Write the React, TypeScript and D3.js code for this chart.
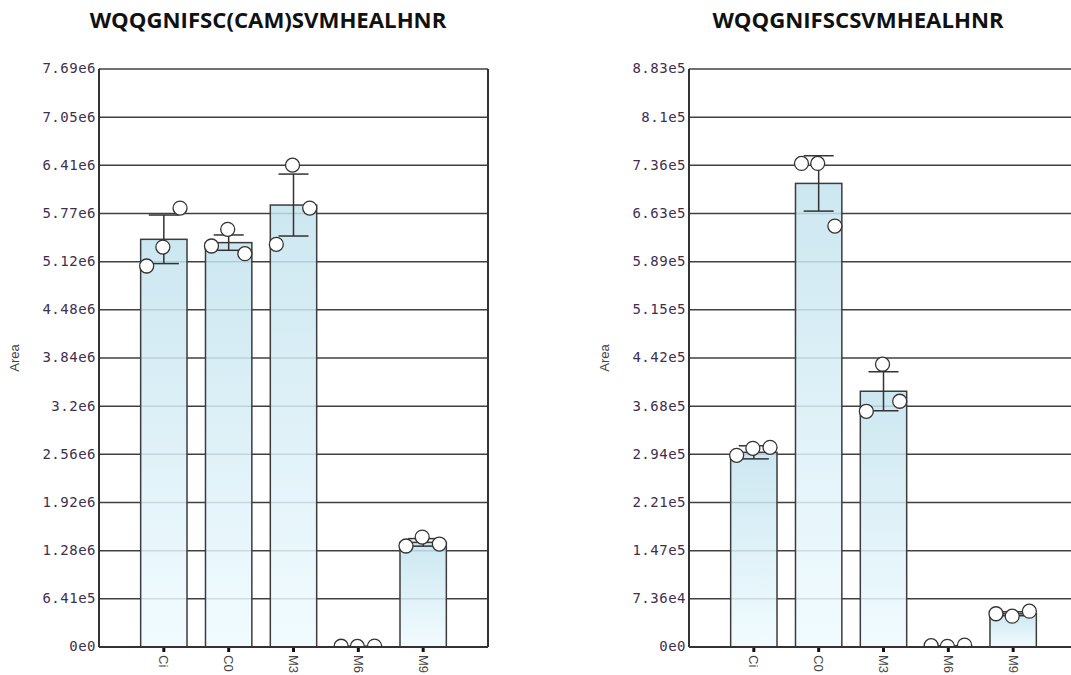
import React from 'react';
import * as d3 from 'd3';

const categories = ['Ci', 'C0', 'M3', 'M6', 'M9'];

const leftTitle = 'WQQGNIFSC(CAM)SVMHEALHNR';
const leftMax = 7.69e6;
const leftTickLabels = ['0e0', '6.41e5', '1.28e6', '1.92e6', '2.56e6', '3.2e6', '3.84e6', '4.48e6', '5.12e6', '5.77e6', '6.41e6', '7.05e6', '7.69e6'];
const leftMeans = [5.424e6, 5.38e6, 5.88e6, 1.2e4, 1.392e6];
const leftErrors = [3.23e5, 1.02e5, 4.12e5, 0, 5.0e4];
const leftPoints = [
  [5.069e6, 5.321e6, 5.84e6],
  [5.335e6, 5.557e6, 5.233e6],
  [5.357e6, 6.411e6, 5.84e6],
  [1.0e4, 0.8e4, 1.2e4],
  [1.344e6, 1.463e6, 1.37e6],
];

const rightTitle = 'WQQGNIFSCSVMHEALHNR';
const rightMax = 8.83e5;
const rightTickLabels = ['0e0', '7.36e4', '1.47e5', '2.21e5', '2.94e5', '3.68e5', '4.42e5', '5.15e5', '5.89e5', '6.63e5', '7.36e5', '8.1e5', '8.83e5'];
const rightMeans = [2.974e5, 7.082e5, 3.907e5, 2e3, 5.08e4];
const rightErrors = [1.0e4, 4.23e4, 2.98e4, 0, 3.0e3];
const rightPoints = [
  [2.928e5, 3.035e5, 3.05e5],
  [7.388e5, 7.388e5, 6.43e5],
  [3.601e5, 4.32e5, 3.754e5],
  [2e3, 1e3, 3e3],
  [5.08e4, 4.71e4, 5.47e4],
];

const jitter = [-0.265, -0.015, 0.25];

type PanelProps = {
  id: string;
  x0: number;
  title: string;
  max: number;
  tickLabels: string[];
  means: number[];
  errors: number[];
  points: number[][];
};

const W = 389;
const TOP = 69;
const BOTTOM = 647;

function Panel({ id, x0, title, max, tickLabels, means, errors, points }: PanelProps) {
  const x = d3.scalePoint<string>().domain(categories).range([x0, x0 + W]).padding(1);
  const y = d3.scaleLinear().domain([0, max]).range([BOTTOM, TOP]);
  const step = x.step();
  const bw = step * 0.715;
  const ticks = tickLabels.map((t, i) => ({ label: t, v: (max * i) / (tickLabels.length - 1) }));
  const grid = '#404040';
  return (
    <g>
      <defs>
        <linearGradient id={`grad-${id}`} x1="0" y1="0" x2="0" y2="1">
          <stop offset="0%" stopColor="#c4e3ee" />
          <stop offset="100%" stopColor="#effbff" />
        </linearGradient>
        <clipPath id={`clip-${id}`}>
          <rect x={x0} y={TOP} width={W} height={BOTTOM - TOP} />
        </clipPath>
      </defs>
      <text x={x0 + 169} y={28} textAnchor="middle" fontFamily="'Open Sans', sans-serif" fontWeight={700} fontSize={22.2} fill="#111">
        {title}
      </text>
      <text
        transform={`translate(${x0 - 80},${(TOP + BOTTOM) / 2}) rotate(-90)`}
        textAnchor="middle"
        fontFamily="'Liberation Sans', sans-serif"
        fontSize={13}
        fill="#444"
      >
        Area
      </text>
      {ticks.map((t, i) => (
        <g key={i}>
          <line x1={x0} x2={x0 + W} y1={y(t.v)} y2={y(t.v)} stroke={grid} strokeWidth={1.5} />
          <text
            x={x0 - 3}
            y={y(t.v)}
            dy="0.32em"
            textAnchor="end"
            fontFamily="'DejaVu Sans Mono', monospace"
            fontSize={14}
            letterSpacing={0.5}
            fill="#3d2f50"
          >
            {t.label}
          </text>
        </g>
      ))}
      <line x1={x0} x2={x0} y1={TOP} y2={BOTTOM} stroke="#333" strokeWidth={2} />
      <line x1={x0 + W} x2={x0 + W} y1={TOP} y2={BOTTOM} stroke="#333" strokeWidth={2} />
      <g clipPath={`url(#clip-${id})`}>
        {categories.map((c, i) => {
          const cx = x(c) as number;
          const m = means[i];
          return (
            <g key={c}>
              <rect
                x={cx - bw / 2}
                y={y(m)}
                width={bw}
                height={BOTTOM - y(m)}
                fill={`url(#grad-${id})`}
                fillOpacity={0.85}
                stroke="#3c3c3c"
                strokeWidth={1.5}
              />
              {errors[i] > 0 && (
                <g stroke="#333" strokeWidth={1.5}>
                  <line x1={cx} x2={cx} y1={y(m - errors[i])} y2={y(m + errors[i])} />
                  <line x1={cx - 15} x2={cx + 15} y1={y(m + errors[i])} y2={y(m + errors[i])} />
                  <line x1={cx - 15} x2={cx + 15} y1={y(m - errors[i])} y2={y(m - errors[i])} />
                </g>
              )}
              {points[i].map((p, j) => (
                <circle key={j} cx={cx + jitter[j] * step} cy={y(p)} r={7} fill="#fff" stroke="#333" strokeWidth={1.3} />
              ))}
            </g>
          );
        })}
      </g>
      <line x1={x0} x2={x0 + W} y1={BOTTOM} y2={BOTTOM} stroke="#333" strokeWidth={2} />
      {categories.map((c) => {
        const cx = x(c) as number;
        return (
          <g key={c}>
            <rect x={cx - 1.5} y={BOTTOM + 1} width={3} height={4} fill="#111" />
            <text
              transform={`translate(${cx},${BOTTOM + 8}) rotate(90)`}
              dy="0.35em"
              textAnchor="start"
              fontFamily="'Liberation Sans', sans-serif"
              fontSize={13}
              fill="#444"
            >
              {c}
            </text>
          </g>
        );
      })}
    </g>
  );
}

export default function App() {
  return (
    <svg width={1071} height={675} style={{ position: 'absolute', left: 0, top: 0, background: '#fff' }}>
      <rect width={1071} height={675} fill="#fff" />
      <Panel id="l" x0={99} title={leftTitle} max={leftMax} tickLabels={leftTickLabels} means={leftMeans} errors={leftErrors} points={leftPoints} />
      <Panel id="r" x0={689} title={rightTitle} max={rightMax} tickLabels={rightTickLabels} means={rightMeans} errors={rightErrors} points={rightPoints} />
    </svg>
  );
}
